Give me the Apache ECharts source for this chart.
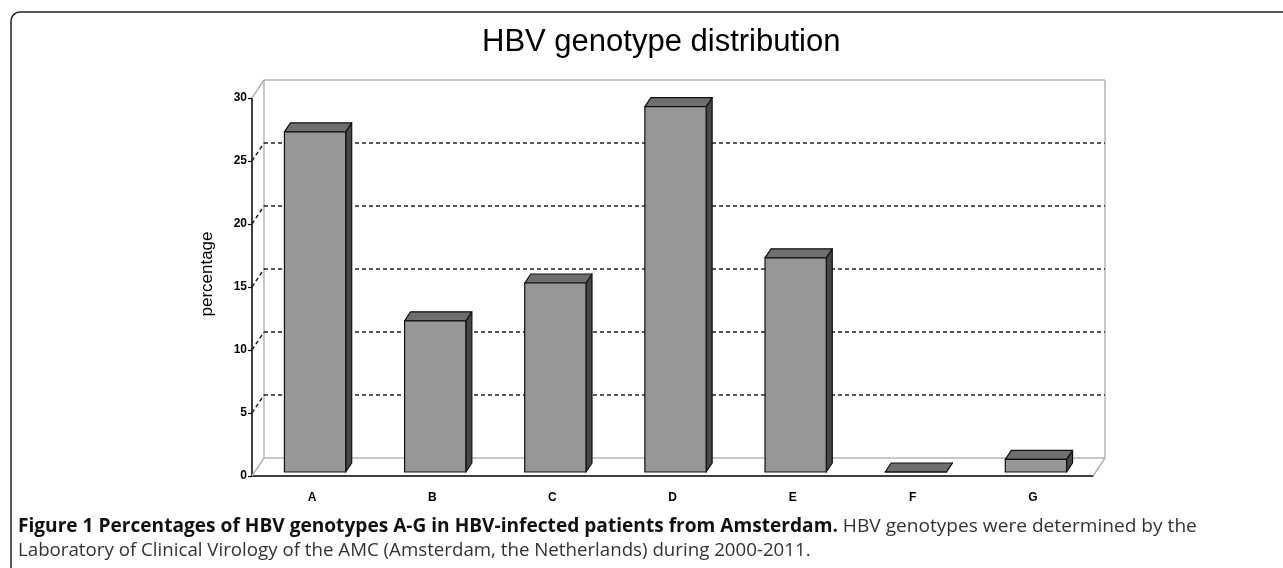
<!DOCTYPE html>
<html>
<head>
<meta charset="utf-8">
<script src="https://cdn.jsdelivr.net/npm/echarts@6/dist/echarts.min.js"></script>
<style>
  html, body { margin: 0; padding: 0; background: #fff; }
  #container { width: 1283px; height: 568px; }
</style>
</head>
<body>
<div id="container"></div>
<script>
// data
var categories  = ['A', 'B', 'C', 'D', 'E', 'F', 'G'];
var percentages = [27, 12, 15, 29, 17, 0, 1];
var yTicks      = [0, 5, 10, 15, 20, 25, 30];

// 3D look: offset of the back wall and of the bar depth
var WALL_DX = 12, WALL_DY = -18;
var BAR_DX  = 6,  BAR_DY  = -9;

var dom   = document.getElementById('container');
var chart = echarts.init(dom);

function wallItem(params, api) {
    var cs = params.coordSys;
    var v  = api.value(1);
    var y  = api.coord([0, v])[1];
    var x0 = cs.x, x1 = cs.x + cs.width;
    var edge = (v === yTicks[0] || v === yTicks[yTicks.length - 1]);
    var solid  = { stroke: '#b4b4b4', lineWidth: 1.5 };
    var dashed = { stroke: '#222', lineWidth: 1.5, lineDash: [4, 3] };
    var children = [
        { type: 'line', shape: { x1: x0, y1: y, x2: x0 + WALL_DX, y2: y + WALL_DY }, style: edge ? solid : dashed },
        { type: 'line', shape: { x1: x0 + WALL_DX, y1: y + WALL_DY, x2: x1 + WALL_DX, y2: y + WALL_DY }, style: edge ? solid : dashed }
    ];
    if (params.dataIndex === 0) {
        var yb = cs.y + cs.height, yt = cs.y;
        children.push(
            { type: 'line', shape: { x1: x0 + WALL_DX, y1: yt + WALL_DY, x2: x0 + WALL_DX, y2: yb + WALL_DY }, style: solid },
            { type: 'line', shape: { x1: x1 + WALL_DX, y1: yt + WALL_DY, x2: x1 + WALL_DX, y2: yb + WALL_DY }, style: solid },
            { type: 'line', shape: { x1: x1, y1: yb, x2: x1 + WALL_DX, y2: yb + WALL_DY }, style: solid }
        );
    }
    return { type: 'group', children: children };
}

function barItem(params, api) {
    var i    = api.value(0);
    var v    = api.value(1);
    var base = api.coord([i, 0]);
    var top  = api.coord([i, v]);
    var bw   = api.size([1, 0])[0] * 0.51;
    var l  = base[0] - bw / 2 + 3, r = l + bw;
    var yb = base[1] - 4, yt = top[1] - 4;
    var stroke = { stroke: '#111', lineWidth: 1.2, lineJoin: 'round' };
    return {
        type: 'group',
        children: [
            { type: 'polygon', shape: { points: [[r, yt], [r + BAR_DX, yt + BAR_DY], [r + BAR_DX, yb + BAR_DY], [r, yb]] },
              style: Object.assign({ fill: '#474747' }, stroke) },
            { type: 'polygon', shape: { points: [[l, yt], [l + BAR_DX, yt + BAR_DY], [r + BAR_DX, yt + BAR_DY], [r, yt]] },
              style: Object.assign({ fill: '#6f6f6f' }, stroke) },
            { type: 'rect', shape: { x: l, y: yt, width: bw, height: yb - yt },
              style: Object.assign({ fill: '#979797' }, stroke) }
        ]
    };
}

option = {
    backgroundColor: '#fff',
    animation: false,
    title: {
        text: 'HBV genotype distribution',
        left: 477,
        top: 22,
        textStyle: { fontSize: 31, fontWeight: 'normal', color: '#000', fontFamily: 'Liberation Sans, Arial, sans-serif' }
    },
    grid: { left: 252, right: 190, top: 98, bottom: 92 },
    xAxis: {
        type: 'category',
        data: categories,
        axisLine: { lineStyle: { color: '#000', width: 1.5 } },
        axisTick: { length: 5, lineStyle: { color: '#000', width: 1.2 } },
        axisLabel: { margin: 16, color: '#000', fontWeight: 'bold', fontSize: 12, fontFamily: 'Liberation Sans, Arial, sans-serif' },
        splitLine: { show: false }
    },
    yAxis: {
        type: 'value',
        min: 0,
        max: 30,
        interval: 5,
        axisLine: { show: true, lineStyle: { color: '#000', width: 1.5 } },
        axisTick: { show: true, length: 4, lineStyle: { color: '#000', width: 1.2 } },
        axisLabel: { margin: 5, color: '#000', fontWeight: 'bold', fontSize: 12, fontFamily: 'Liberation Sans, Arial, sans-serif' },
        splitLine: { show: false }
    },
    graphic: [
        { type: 'rect', shape: { x: 11, y: 12, width: 1400, height: 700, r: [9, 0, 0, 0] },
          style: { fill: 'none', stroke: '#222', lineWidth: 1.5 }, z: 0 },
        { type: 'text', x: 207, y: 274, rotation: Math.PI / 2,
          style: { text: 'percentage', fontSize: 17, fill: '#000', fontFamily: 'Liberation Sans, Arial, sans-serif',
                   align: 'center', verticalAlign: 'middle' } },
        { type: 'text', x: 18, y: 527, scaleX: 1.006,
          style: {
              text: '{b|Figure 1 Percentages of HBV genotypes A-G in HBV-infected patients from Amsterdam.} HBV genotypes were determined by the',
              fontSize: 19, fill: '#333', fontFamily: 'Open Sans, sans-serif', verticalAlign: 'middle',
              rich: { b: { fontWeight: 'bold', fill: '#111', fontSize: 19, fontFamily: 'Open Sans, sans-serif' } }
          } },
        { type: 'text', x: 18, y: 551, scaleX: 0.984,
          style: {
              text: 'Laboratory of Clinical Virology of the AMC (Amsterdam, the Netherlands) during 2000-2011.',
              fontSize: 19, fill: '#333', fontFamily: 'Open Sans, sans-serif', verticalAlign: 'middle'
          } }
    ],
    series: [
        {
            name: 'wall',
            type: 'custom',
            renderItem: wallItem,
            data: yTicks.map(function (v) { return [0, v]; }),
            z: 1,
            silent: true
        },
        {
            name: 'HBV genotypes',
            type: 'custom',
            renderItem: barItem,
            data: percentages.map(function (v, i) { return [i, v]; }),
            z: 3
        }
    ]
};

chart.setOption(option, true);
</script>
</body>
</html>
